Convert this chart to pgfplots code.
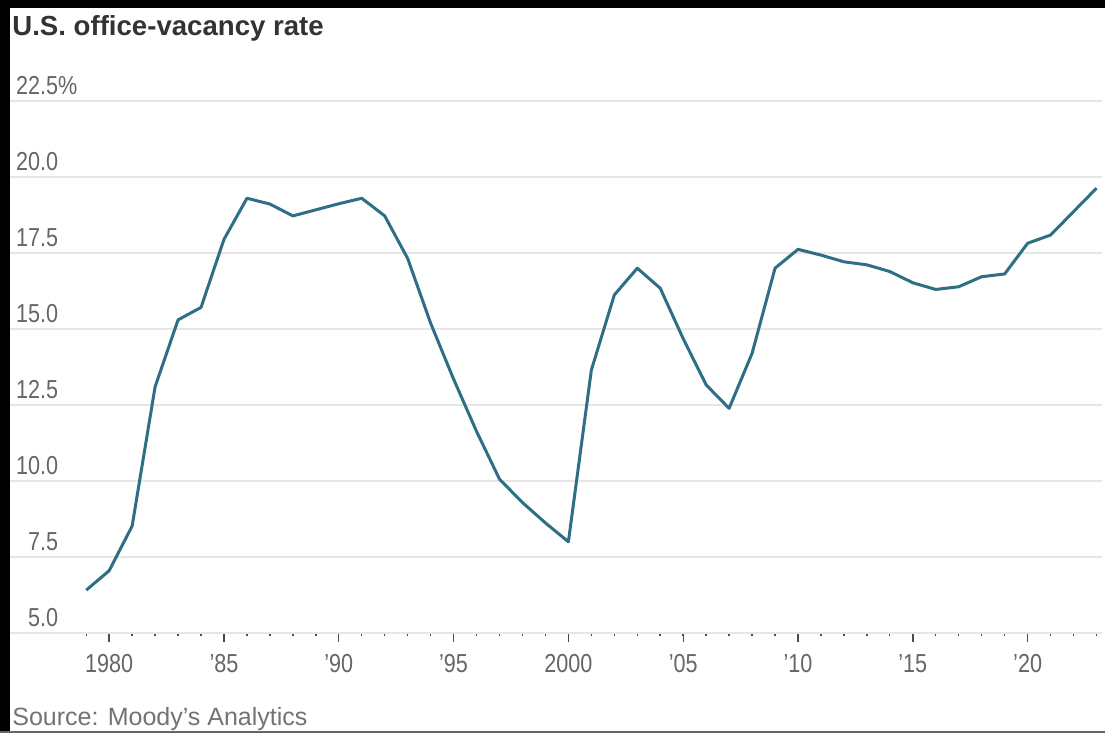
\documentclass[border=0pt]{standalone}
\usepackage{pgfplots}
\pgfplotsset{compat=1.18}
\usepackage{fontspec}
\setmainfont{Liberation Sans}
\newfontfamily\narrowfont[FakeStretch=0.83]{Liberation Sans}
\definecolor{linecol}{HTML}{2F6F86}
\definecolor{gridcol}{HTML}{E6E6E6}
\definecolor{labcol}{HTML}{666666}
\definecolor{titlecol}{HTML}{333333}
\begin{document}
\begin{tikzpicture}
\useasboundingbox (0,0) rectangle (552.5pt,366.5pt);
\fill[white] (0,0) rectangle (552.5pt,366.5pt);
\begin{axis}[
  at={(5pt,50.15pt)}, anchor=south west,
  scale only axis, width=546pt, height=266pt,
  xmin=1975.68, xmax=2023.24, ymin=5, ymax=22.5,
  clip=false,
  axis y line*=left,
  y axis line style={draw=none},
  axis x line*=bottom,
  x axis line style={draw=gridcol, line width=1pt, -},
  xtick={1980,1985,...,2020},
  xticklabels={1980,’85,’90,’95,2000,’05,’10,’15,’20},
  minor xtick={1979,...,2023},
  tick align=outside,
  major tick length=4.5pt,
  minor tick length=1.5pt,
  every tick/.style={draw=black!70, line width=0.7pt},
  xticklabel style={font=\narrowfont\fontsize{13}{15}\selectfont, text=labcol, yshift=-3pt},
  ytick={5,7.5,...,22.5},
  yticklabels={5.0,7.5,10.0,12.5,15.0,17.5,20.0,22.5\rlap{\%}},
  ymajorgrids,
  major grid style={draw=gridcol, line width=1pt},
  yticklabel style={font=\narrowfont\fontsize{13}{15}\selectfont, text=labcol, anchor=south east, inner sep=0pt, xshift=28.8pt, yshift=3pt},
  ytick style={draw=none},
]
\addplot[linecol, line width=1.5pt, line join=round] coordinates {
(1979,6.40) (1980,7.04) (1981,8.51) (1982,13.09) (1983,15.29) (1984,15.70)
(1985,17.94) (1986,19.29) (1987,19.10) (1988,18.71) (1989,18.91) (1990,19.11)
(1991,19.29) (1992,18.71) (1993,17.31) (1994,15.18) (1995,13.34) (1996,11.62)
(1997,10.05) (1998,9.28) (1999,8.61) (2000,7.99) (2001,13.64) (2002,16.11)
(2003,16.99) (2004,16.33) (2005,14.67) (2006,13.15) (2007,12.38) (2008,14.19)
(2009,16.99) (2010,17.61) (2011,17.42) (2012,17.20) (2013,17.10) (2014,16.88)
(2015,16.51) (2016,16.29) (2017,16.38) (2018,16.71) (2019,16.80) (2020,17.81)
(2021,18.08) (2022,18.85) (2023,19.62)
};
\end{axis}
\node[anchor=base west, inner sep=0pt, font=\bfseries\fontsize{13.8}{16}\selectfont, text=titlecol] at (6pt,348.5pt) {U.S. office-vacancy rate};
\node[anchor=base west, inner sep=0pt, font=\fontsize{12.5}{14}\selectfont, text=black!55] at (6pt,3.5pt) {Source: Moody’s Analytics};
\fill[black] (0,0) rectangle (5pt,366.5pt);
\fill[black] (0,362.5pt) rectangle (552.5pt,366.5pt);
\fill[black!60] (0,0) rectangle (552.5pt,0.8pt);
\end{tikzpicture}
\end{document}
